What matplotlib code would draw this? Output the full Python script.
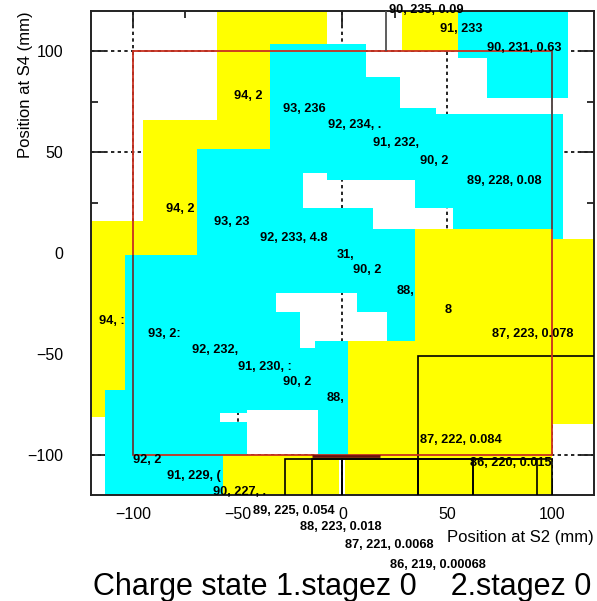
import numpy as np
import matplotlib
matplotlib.use("Agg")
import matplotlib.pyplot as plt
from matplotlib.colors import ListedColormap
from matplotlib.patches import Rectangle
from matplotlib.ticker import MultipleLocator

plt.rcParams['font.family'] = ['Liberation Sans', 'DejaVu Sans']

# transmission map in the S2/S4 plane, boxes in mm: (x0, x1, y0, y1)
yellow_boxes = [
    (-60, -7.5, 103.5, 120), (-60, -34.5, 51.5, 120), (-95, -60, 51.5, 66),
    (-95, -69.5, -1, 66), (-120, -69.5, -1, 16), (-120, -104, -68, 16),
    (-120, -113.5, -81.5, -68), (28.5, 55, 100, 120), (34.5, 100, -120, 12),
    (100, 120, -85, 7), (2.5, 34.5, -120, -43.5), (-57, 2.5, -120, -100),
]
cyan_boxes = [
    (-34.5, 11, -43.5, 103.5), (11, 27.5, -43.5, 87.5), (27.5, 34.5, -43.5, 72),
    (34.5, 44.5, 12, 72), (44.5, 100, 12, 69), (100, 105, 7, 69),
    (-69.5, -34.5, -1, 51.5), (-104, 2.5, -100, -1), (-113.5, -57, -120, -68),
    (55, 107.5, 96.5, 120), (69, 107.5, 77, 96.5),
]
empty_boxes = [
    (-19, -7.5, 22.5, 39.5), (-7.5, 34.5, 22.5, 36), (14.5, 52.5, 12, 22.5),
    (-31.5, 7, -29.5, -20), (-20.5, 21, -43.5, -29.5), (-20.5, -13, -47, -43.5),
    (-58.5, -45.5, -84, -79.5), (-45.5, -11.5, -100, -78), (-1.5, 1, -120, -102),
]
outline_boxes = [
    (36, 125, -125, -51), (-27.5, 0, -125, -102), (-14.5, 36, -125, -102),
    (0, 62.5, -125, -102), (36, 93, -125, -102), (62.5, 100, -125, -102),
]
edge_segments = [(21, 100, 120), (100, 12, 100), (-100, -100, -1)]
slit = (-100, -100, 100, 100)

label_x = [22.4, 46.5, 69.0, -51.8, -28.4, -6.9, 14.6, 37.0, 59.4,
           -84.2, -61.3, -39.4, -2.6, 5.0, 26.0, 48.9, 71.4,
           -116.2, -92.8, -71.8, -49.9, -28.4, -7.4, 37.0, 60.9,
           -100.0, -83.8, -61.8, -42.7, -20.3, 1.2, 22.7]
label_y = [120.7, 110.9, 101.5, 77.8, 71.4, 63.5, 54.6, 45.7, 35.8,
           22.0, 15.6, 7.2, -1.2, -8.6, -19.0, -28.4, -40.2,
           -33.8, -40.2, -48.1, -56.5, -64.0, -71.9, -92.6, -104.0,
           -102.5, -110.4, -118.3, -127.7, -136.0, -144.9, -154.8]
label_text = ["90, 235, 0.09", "91, 233", "90, 231, 0.63", "94, 2", "93, 236",
              "92, 234, .", "91, 232,", "90, 2", "89, 228, 0.08",
              "94, 2", "93, 23", "92, 233, 4.8", "31,", "90, 2", "88,", "8",
              "87, 223, 0.078",
              "94, :", "93, 2:", "92, 232,", "91, 230, :", "90, 2", "88,",
              "87, 222, 0.084", "86, 220, 0.015",
              "92, 2", "91, 229, (", "90, 227, .", "89, 225, 0.054",
              "88, 223, 0.018", "87, 221, 0.0068", "86, 219, 0.00068"]

fig = plt.figure(figsize=(5.97, 6.01), dpi=100)
ax = fig.add_axes([0.1524, 0.1764, 0.8425, 0.8053])

# rasterise the boxes: 0 = empty, 1 = yellow, 2 = cyan
res = 0.5
centres = np.arange(-120, 120, res) + res / 2
gx, gy = np.meshgrid(centres, centres)
region = np.zeros(gx.shape)
for code, boxes in ((1, yellow_boxes), (2, cyan_boxes), (0, empty_boxes)):
    for x0, x1, y0, y1 in boxes:
        region[(gx >= x0) & (gx < x1) & (gy >= y0) & (gy < y1)] = code
ax.imshow(np.ma.masked_equal(region, 0), origin='lower', extent=(-120, 120, -120, 120),
          cmap=ListedColormap(['#ffff00', '#00ffff']), vmin=1, vmax=2,
          interpolation='nearest', aspect='auto', zorder=1)

for x0, x1, y0, y1 in outline_boxes:
    ax.add_patch(Rectangle((x0, y0), x1 - x0, y1 - y0, fill=False,
                           edgecolor='black', lw=1.2, zorder=3))
ax.add_patch(Rectangle((slit[0], slit[1]), slit[2] - slit[0], slit[3] - slit[1],
                       fill=False, edgecolor='#c83020', lw=1.3, zorder=4))
for x, y0, y1 in edge_segments:
    ax.vlines(x, y0, y1, color='#505050', lw=1.3, zorder=4.5)
ax.hlines(-100.8, -14.5, 18, color='#6a1010', lw=2.0, zorder=4.5)

for x, y, t in zip(label_x, label_y, label_text):
    ax.text(x, y, t, fontsize=9.2, fontweight='bold', ha='left', va='center', zorder=6)

ax.set_xlim(-120, 120)
ax.set_ylim(-120, 120)
ax.set_axisbelow(True)
ax.grid(True, which='major', color='black', lw=1.2, linestyle=(0, (2, 2)))
ax.xaxis.set_major_locator(MultipleLocator(50))
ax.yaxis.set_major_locator(MultipleLocator(50))
ax.xaxis.set_minor_locator(MultipleLocator(25))
ax.yaxis.set_minor_locator(MultipleLocator(25))
ax.tick_params(which='both', direction='in', top=True, right=True, width=1.3, color='#222222')
ax.tick_params(which='major', length=10)
ax.tick_params(which='minor', length=5)
ax.tick_params(axis='y', which='major', pad=20, labelsize=11.5)
ax.tick_params(axis='x', which='major', pad=9, labelsize=11.5)
for s in ax.spines.values():
    s.set_linewidth(1.4)
    s.set_color('#222222')

ax.set_xlabel('Position at S2 (mm)', loc='right', fontsize=12)
ax.set_ylabel('Position at S4 (mm)', loc='top', fontsize=12)
ax.xaxis.label.set_verticalalignment('center')
ax.yaxis.label.set_verticalalignment('center')
ax.xaxis.set_label_coords(1.0, -0.087)
ax.yaxis.set_label_coords(-0.131, 1.0)

fig.text(0.573, 0.010, 'Charge state 1.stagez 0    2.stagez 0', fontsize=22,
         ha='center', va='baseline')

fig.savefig('out.png', dpi=100)
